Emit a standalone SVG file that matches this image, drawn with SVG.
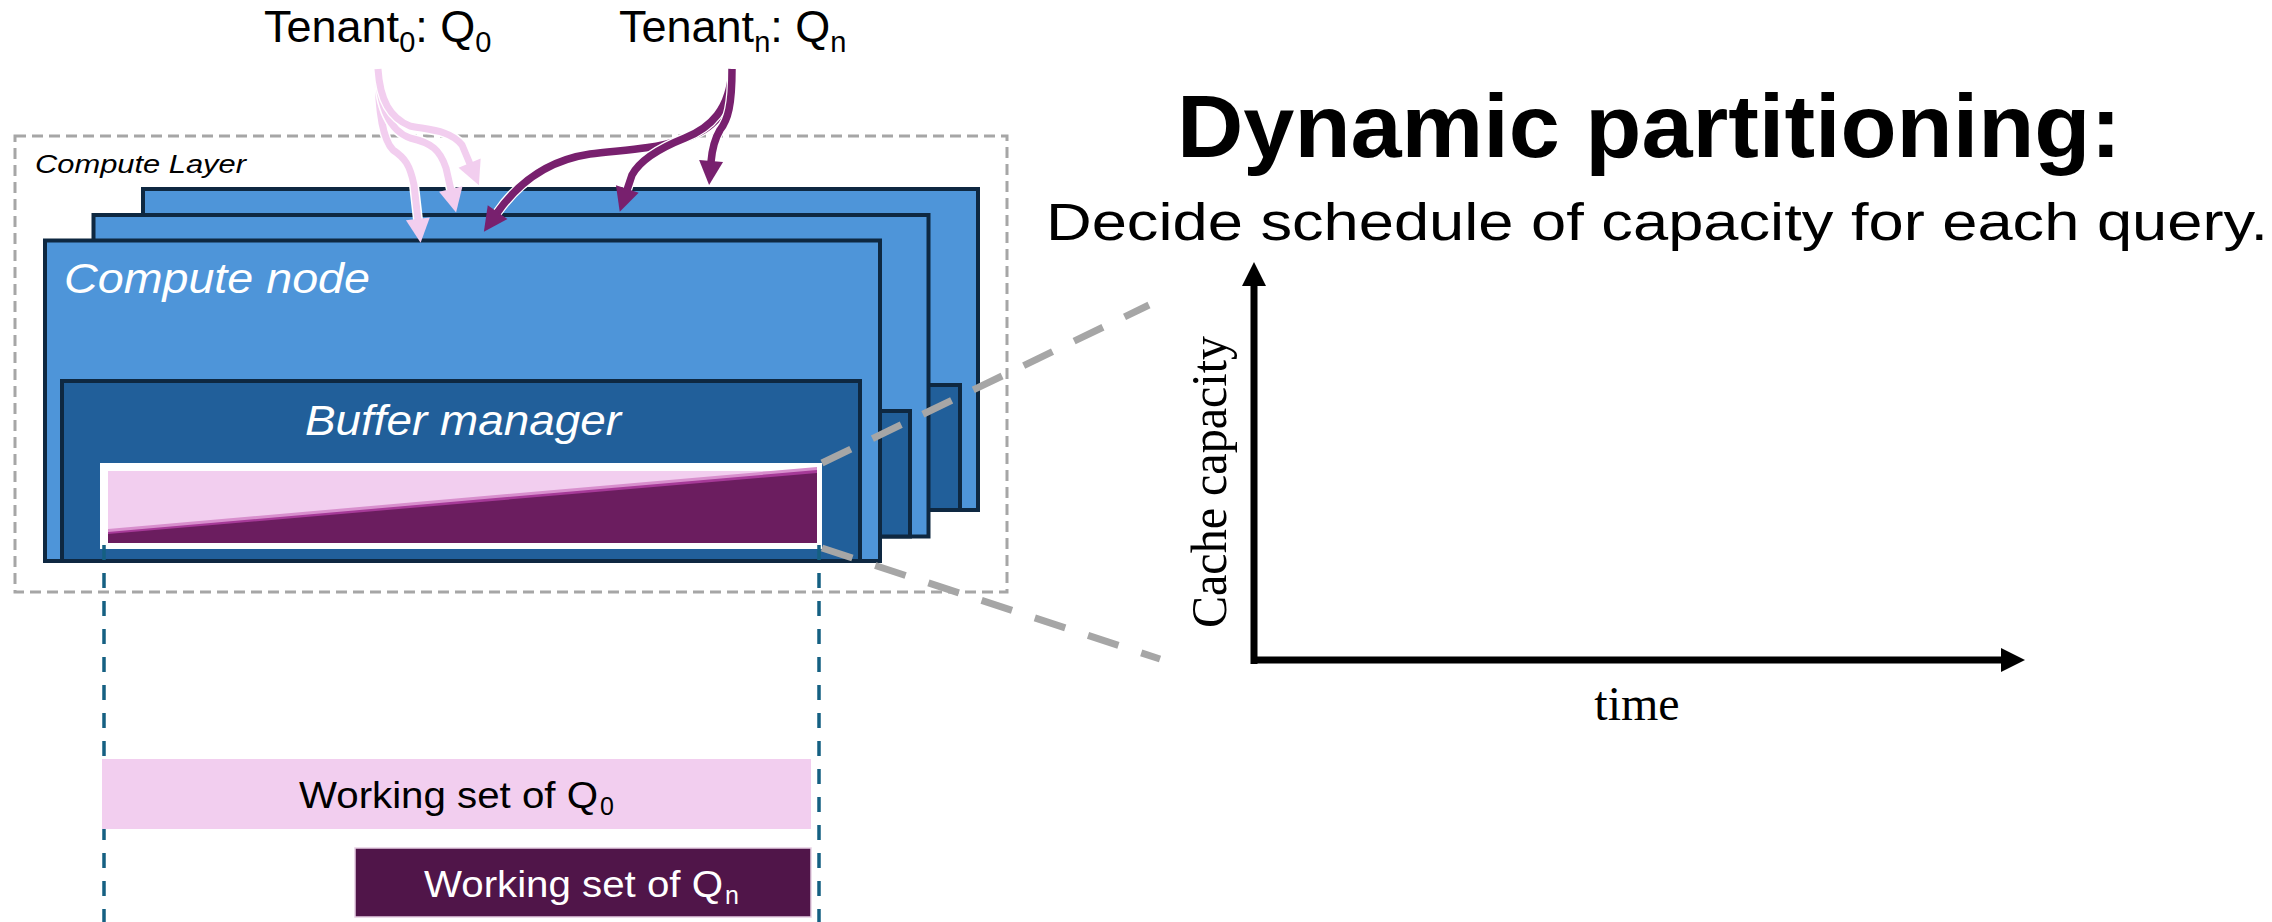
<svg xmlns="http://www.w3.org/2000/svg" width="2272" height="922" viewBox="0 0 2272 922">
<style>
.sans{font-family:'Liberation Sans',Arial,sans-serif}
.serif{font-family:'Liberation Serif','Times New Roman',serif}
.node{fill:#4E95D9;stroke:#0E2841;stroke-width:4}
.buf{fill:#215F9A;stroke:#0E2841;stroke-width:4}
.case{fill:none;stroke:#FFFFFF;stroke-width:10}
.pink{fill:none;stroke:#F2CEEF;stroke-width:7}
.purp{fill:none;stroke:#78206E;stroke-width:7.5}
.zoomln{fill:none;stroke:#A6A6A6;stroke-width:7;stroke-dasharray:32 24}
.tick{fill:none;stroke:#156082;stroke-width:3.5;stroke-dasharray:15 13}
.axis{fill:none;stroke:#000;stroke-width:7}
</style>
<defs>
<marker id="ahPink" markerUnits="userSpaceOnUse" markerWidth="24" markerHeight="24" viewBox="0 0 23 23" refX="1" refY="11.5" orient="auto" overflow="visible"><path d="M0,0 L23,11.5 L0,23 Z" fill="#F2CEEF"/></marker>
<marker id="ahPurp" markerUnits="userSpaceOnUse" markerWidth="24" markerHeight="24" viewBox="0 0 23 23" refX="1" refY="11.5" orient="auto" overflow="visible"><path d="M0,0 L23,11.5 L0,23 Z" fill="#78206E"/></marker>
<marker id="ahBlack" markerUnits="userSpaceOnUse" markerWidth="24" markerHeight="24" viewBox="0 0 24 24" refX="0" refY="12" orient="auto" overflow="visible"><path d="M0,0 L24,12 L0,24 Z" fill="#000"/></marker>
</defs>

<g id="compute-layer">
<rect x="15" y="136" width="992" height="456" fill="none" stroke="#A6A6A6" stroke-width="3" stroke-dasharray="11 6"/>
<text class="sans" x="35" y="173" font-size="25" font-style="italic" fill="#000" textLength="211" lengthAdjust="spacingAndGlyphs">Compute Layer</text>
</g>

<g id="compute-node-3">
<rect class="node" x="143" y="189" width="835" height="321"/>
<rect class="buf" x="159" y="385" width="801" height="125"/>
</g>

<g id="compute-node-2">
<rect class="node" x="93.5" y="215" width="835" height="321.5"/>
<rect class="buf" x="110.5" y="411" width="799.5" height="125.5"/>
</g>

<g id="compute-node-1">
<rect class="node" x="45" y="240.5" width="835" height="320.5"/>
<text class="sans" x="64" y="293" font-size="42" font-style="italic" fill="#FFFFFF" textLength="306" lengthAdjust="spacingAndGlyphs">Compute node</text>
<g id="buffer-manager">
<rect class="buf" x="62" y="381" width="798" height="180"/>
<text class="sans" x="305" y="435" font-size="42" font-style="italic" fill="#FFFFFF" textLength="316" lengthAdjust="spacingAndGlyphs">Buffer manager</text>
<rect x="100" y="463" width="722" height="86" fill="#FFFFFF"/>
<rect x="108" y="471" width="709" height="72" fill="#F2CEEF"/>
<polygon points="108,529 817,467 817,543 108,543" fill="#D88FCD"/>
<polygon points="108,532 817,470 817,543 108,543" fill="#A63A98"/>
<polygon points="108,534 817,473 817,543 108,543" fill="#6B1D5F"/>
</g>
</g>

<g id="tenant-0">
<text class="sans" x="264" y="42" font-size="45" fill="#000">Tenant<tspan font-size="29" dy="10">0</tspan><tspan dy="-10">: Q</tspan><tspan font-size="29" dy="10">0</tspan></text>
</g>

<g id="tenant-n">
<text class="sans" x="619" y="42" font-size="45" fill="#000">Tenant<tspan font-size="29" dy="10">n</tspan><tspan dy="-10">: Q</tspan><tspan font-size="29" dy="10">n</tspan></text>
</g>

<g id="connectors">
<path class="case" d="M378,69 C378,110 383,140 393,150 C405,158 410,165 414,185 L418,220"/>
<path class="pink" d="M378,69 C378,110 383,140 393,150 C405,158 410,165 414,185 L418,220" marker-end="url(#ahPink)"/>
<path class="case" d="M378,69 C379,105 388,130 410,138 C432,143 440,150 446,168 L451,190"/>
<path class="pink" d="M378,69 C379,105 388,130 410,138 C432,143 440,150 446,168 L451,190" marker-end="url(#ahPink)"/>
<path class="case" d="M378,69 C380,100 390,118 410,126 C430,130 450,130 462,145 L470,164"/>
<path class="pink" d="M378,69 C380,100 390,118 410,126 C430,130 450,130 462,145 L470,164" marker-end="url(#ahPink)"/>

<path class="case" d="M732,69 C732,110 715,130 680,140 C650,150 620,150 590,154 C550,160 520,180 497,213"/>
<path class="purp" d="M732,69 C732,110 715,130 680,140 C650,150 620,150 590,154 C550,160 520,180 497,213" marker-end="url(#ahPurp)"/>
<path class="case" d="M732,69 C730,110 710,128 685,138 C660,148 640,160 632,175 L627,190"/>
<path class="purp" d="M732,69 C730,110 710,128 685,138 C660,148 640,160 632,175 L627,190" marker-end="url(#ahPurp)"/>
<path class="case" d="M732,69 C732,105 728,120 720,130 C714,140 712,150 711,162"/>
<path class="purp" d="M732,69 C732,105 728,120 720,130 C714,140 712,150 711,162" marker-end="url(#ahPurp)"/>

<line class="tick" x1="104" y1="545" x2="104" y2="922"/>
<line class="tick" x1="819" y1="545" x2="819" y2="922"/>

<line class="zoomln" x1="822" y1="463" x2="1149" y2="305"/>
<line class="zoomln" x1="822" y1="548" x2="1160" y2="659"/>
</g>

<g id="working-set-q0">
<rect x="102" y="759" width="709" height="70" fill="#F2CEEF"/>
<text class="sans" x="299" y="808" font-size="36" fill="#000" textLength="299" lengthAdjust="spacingAndGlyphs">Working set of Q</text>
<text class="sans" x="600" y="815" font-size="25" fill="#000">0</text>
</g>

<g id="working-set-qn">
<rect x="355" y="848" width="456" height="69" fill="#501549" stroke="#E6CFE3" stroke-width="1.5"/>
<text class="sans" x="424" y="897" font-size="36" fill="#FFFFFF" textLength="299" lengthAdjust="spacingAndGlyphs">Working set of Q</text>
<text class="sans" x="725" y="904" font-size="25" fill="#FFFFFF">n</text>
</g>

<g id="title">
<text class="sans" x="1177" y="157" font-size="89" font-weight="bold" fill="#000" textLength="944" lengthAdjust="spacingAndGlyphs">Dynamic partitioning:</text>
<text class="sans" x="1046" y="240" font-size="51" fill="#000" textLength="1222" lengthAdjust="spacingAndGlyphs">Decide schedule of capacity for each query.</text>
</g>

<g id="chart">
<line class="axis" x1="1254" y1="664" x2="1254" y2="286" marker-end="url(#ahBlack)"/>
<line class="axis" x1="1251" y1="660" x2="2001" y2="660" marker-end="url(#ahBlack)"/>
<text class="serif" transform="translate(1226,482) rotate(-90)" x="0" y="0" font-size="50" text-anchor="middle" fill="#000" textLength="292" lengthAdjust="spacingAndGlyphs">Cache capacity</text>
<text class="serif" x="1637" y="720" font-size="48" text-anchor="middle" fill="#000">time</text>
</g>
</svg>
